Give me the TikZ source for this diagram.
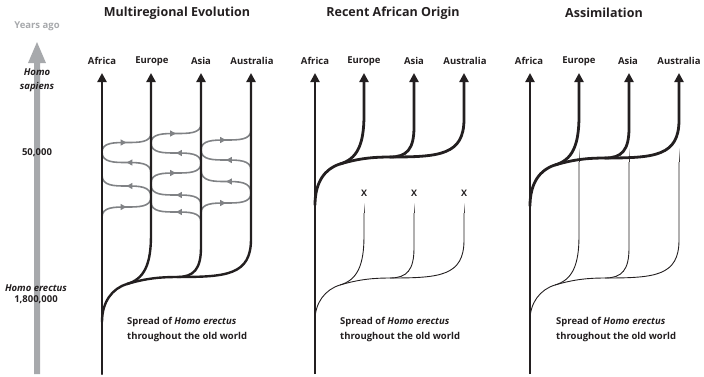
\documentclass[tikz,border=0pt]{standalone}
\usepackage{fontspec}
\setmainfont{Open Sans}
\usetikzlibrary{arrows.meta,decorations.markings}
\definecolor{ink}{HTML}{231F20}
\definecolor{axisgray}{HTML}{A7A9AC}
\definecolor{flowgray}{HTML}{808285}
\tikzset{
 lbl/.style={font=\bfseries\fontsize{9.5}{12}\selectfont, text=ink, inner sep=0pt},
 ttl/.style={font=\bfseries\fontsize{12.5}{15}\selectfont, text=ink, inner sep=0pt},
 axl/.style={font=\bfseries\fontsize{9.5}{12}\selectfont, text=ink, inner sep=0pt, align=center},
 note/.style={font=\bfseries\fontsize{9.5}{14.5}\selectfont, text=ink, inner sep=0pt, align=left, anchor=west},
 xmark/.style={font=\bfseries\fontsize{9}{10}\selectfont, text=ink, inner sep=0pt},
 heavy/.style={draw=ink, line width=2.4pt, line cap=round},
 heavier/.style={draw=ink, line width=2.8pt, line cap=round},
 stem/.style={draw=ink, line width=2pt},
 fine/.style={draw=ink, line width=0.9pt},
 tipped/.style={-{Triangle[width=9pt,length=9pt]}},
 flow/.style={draw=flowgray, line width=1.6pt, postaction={decorate},
   decoration={markings, mark=at position 0.5 with {\arrow[color=flowgray]{Triangle[width=6pt,length=6pt]}}}},
}
% #1 X0, #2 Y (level of the horizontal), #3 line style, #4 top y, #5 tip style, #6 start offset
\newcommand\spreadtree[6]{%
 \draw[#3] (#1,#2+#6) .. controls (#1,#2+25) and (#1+10,#2+11.5) .. (#1+25,#2+7)
   .. controls (#1+45,#2+1) and (#1+60,#2) .. (#1+75,#2);
 \draw[#3,#5] (#1+25,#2+7) .. controls (#1+42,#2+2) and (#1+49,#2-12) .. (#1+49,#2-42) -- (#1+49,#4);
 \draw[#3,#5] (#1+75,#2) .. controls (#1+92,#2) and (#1+99,#2-8) .. (#1+99,#2-30) -- (#1+99,#4);
 \draw[#3,#5] (#1+75,#2) .. controls (#1+125,#2) and (#1+149,#2-2) .. (#1+149,#2-38) -- (#1+149,#4);
}
% faded top end of a thin line: x, top y, number of 1px steps
\newcommand\fadetop[3]{%
 \foreach \i in {1,...,#3}
   \draw[ink, line width=0.9pt, opacity={\i/(#3+1)}] (#1,#2+\i-1) -- (#1,#2+\i);
}
\begin{document}
\begin{tikzpicture}[x=1pt,y=-1pt]
\useasboundingbox (0,0) rectangle (704,376);

% ---------- time axis ----------
\fill[axisgray] (34,374) -- (34,63) -- (28,63) -- (37,42) -- (46,63) -- (40,63) -- (40,374) -- cycle;
\node[axl, text=axisgray] (yearsago) at (37,26) {Years ago};
\node[axl] (sapiens) at (37,80) {\itshape Homo\\[2pt]\itshape sapiens};
\node[axl] (t50k) at (37,153) {50,000};
\node[axl] (erectus) at (36,294) {\itshape Homo erectus\\[-1pt]1,800,000};

% ---------- titles ----------
\node[ttl] (t1) at (177,13) {Multiregional Evolution};
\node[ttl] (t2) at (393,13) {Recent African Origin};
\node[ttl] (t3) at (604,13) {Assimilation};

% ---------- panel 1 : multiregional ----------
\foreach \nm/\xx/\lab in {afr1/102/Africa, eur1/152/Europe, asi1/201/Asia, aus1/252/Australia}
  \node[lbl] (\nm) at (\xx,61) {\lab};
% gene flow between regions
\draw[flow] (102,152) .. controls (102,133) and (151,152) .. (151,133);
\draw[flow] (151,173) .. controls (151,152) and (102,173) .. (102,152);
\draw[flow] (151,197) .. controls (151,175) and (102,197) .. (102,175);
\draw[flow] (102,217) .. controls (102,197) and (151,217) .. (151,197);
\draw[flow] (151,143) .. controls (151,124) and (201,143) .. (201,124);
\draw[flow] (201,163) .. controls (201,143) and (151,163) .. (151,143);
\draw[flow] (151,183) .. controls (151,163) and (201,183) .. (201,163);
\draw[flow] (201,205) .. controls (201,185) and (151,205) .. (151,185);
\draw[flow] (201,222) .. controls (201,202) and (151,222) .. (151,202);
\draw[flow] (201,150) .. controls (201,130) and (251,150) .. (251,130);
\draw[flow] (251,170) .. controls (251,150) and (201,170) .. (201,150);
\draw[flow] (251,193) .. controls (251,170) and (201,193) .. (201,170);
\draw[flow] (201,213) .. controls (201,193) and (251,213) .. (251,193);
\draw[heavy,tipped] (102,374) -- (102,73);
\spreadtree{102}{277}{heavy}{73}{tipped}{45}
\node[note] (n1) at (127,329.5) {Spread of \textit{Homo erectus}\\throughout the old world};

% ---------- panel 2 : recent African origin ----------
\foreach \nm/\xx/\lab in {afr2/315/Africa, eur2/364/Europe, asi2/414/Asia, aus2/465/Australia}
  \node[lbl] (\nm) at (\xx,61) {\lab};
\spreadtree{315}{278}{fine}{213}{}{42}
\fadetop{364}{203}{10}\fadetop{414}{203}{10}\fadetop{464}{203}{10}
\draw[stem,tipped] (315,374) -- (315,73);
\spreadtree{315}{157}{heavier}{73}{tipped}{48}
\node[xmark] (x1) at (364,193) {X};
\node[xmark] (x2) at (414,193) {X};
\node[xmark] (x3) at (464,193) {X};
\node[note] (n2) at (340,329.5) {Spread of \textit{Homo erectus}\\throughout the old world};

% ---------- panel 3 : assimilation ----------
\foreach \nm/\xx/\lab in {afr3/529/Africa, eur3/579/Europe, asi3/628/Asia, aus3/679/Australia}
  \node[lbl] (\nm) at (\xx,61) {\lab};
\spreadtree{530}{278}{fine}{162}{}{42}
\fadetop{579}{148}{14}\fadetop{629}{148}{14}\fadetop{679}{148}{14}
\draw[stem,tipped] (530,374) -- (530,73);
\spreadtree{530}{158}{heavier}{73}{tipped}{48}
\node[note] (n3) at (556,329.5) {Spread of \textit{Homo erectus}\\throughout the old world};
\end{tikzpicture}
\end{document}
